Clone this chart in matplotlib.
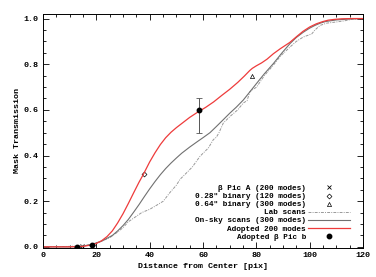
import matplotlib
matplotlib.use("Agg")
import matplotlib.pyplot as plt

plt.rcParams["font.family"] = ["Liberation Mono", "DejaVu Sans Mono"]
plt.rcParams["font.weight"] = "bold"

# adopted 200 modes (red)
adopt_x = [0, 10, 15, 18, 20, 22, 24, 26, 28, 30, 32, 34, 36, 37.6, 40, 42, 44, 46, 48,
           50, 52, 55, 58, 61, 64, 67, 70, 73, 75.5, 77.5, 78.5, 80, 82, 84, 86.4, 89,
           92.5, 95, 97.5, 100, 102.5, 105, 107, 109, 112, 116, 120]
adopt_y = [0, 0, 0.002, 0.008, 0.015, 0.027, 0.045, 0.07, 0.105, 0.145, 0.19, 0.237,
           0.283, 0.317, 0.372, 0.412, 0.448, 0.478, 0.502, 0.522, 0.54, 0.567, 0.59,
           0.611, 0.635, 0.663, 0.69, 0.72, 0.748, 0.772, 0.782, 0.793, 0.806, 0.822,
           0.846, 0.868, 0.895, 0.92, 0.944, 0.963, 0.977, 0.987, 0.993, 0.996, 0.999,
           1.0, 1.0]

# on-sky scans (300 modes)
sky_x = [0, 10, 15, 18, 22, 26, 28, 30, 32, 34, 36, 38, 40, 42, 44, 46, 48, 50, 52, 55,
         58, 60.1, 62.6, 65, 67.6, 70, 72.5, 75.1, 77.5, 80.1, 83, 86.4, 89.5, 92.6, 95,
         97.6, 100, 102, 104, 106, 110, 115, 120]
sky_y = [0, 0, 0.003, 0.01, 0.025, 0.05, 0.07, 0.093, 0.12, 0.152, 0.185, 0.22, 0.254,
         0.286, 0.316, 0.343, 0.367, 0.389, 0.41, 0.437, 0.462, 0.479, 0.5, 0.527, 0.557,
         0.585, 0.612, 0.643, 0.678, 0.716, 0.758, 0.803, 0.848, 0.89, 0.917, 0.94, 0.958,
         0.97, 0.98, 0.987, 0.994, 0.998, 1.0]

# lab scans
lab_x = [0, 5, 10, 15, 20, 25, 28, 30.1, 32, 33.9, 37, 40.1, 43, 45.1, 47.6, 50, 51.4,
         53.9, 56, 58.9, 62, 63.9, 65, 66, 67.6, 70.1, 73, 75.1, 76.5, 77.6, 80.1, 83,
         86.4, 89, 92.6, 95, 97.6, 100.8, 102, 103.9, 106.4, 110, 113, 116, 120]
lab_y = [0, 0.001, 0.002, 0.005, 0.015, 0.04, 0.065, 0.085, 0.11, 0.125, 0.15, 0.165,
         0.185, 0.2, 0.238, 0.27, 0.296, 0.325, 0.35, 0.397, 0.433, 0.47, 0.48, 0.5,
         0.542, 0.571, 0.6, 0.63, 0.64, 0.68, 0.7, 0.75, 0.796, 0.835, 0.875, 0.9, 0.919,
         0.933, 0.95, 0.97, 0.98, 0.985, 0.99, 0.997, 1.0]

# point measurements
picA_x, picA_y = [14.5], [0.002]
bin028_x, bin028_y = [37.9], [0.32]
bin064_x, bin064_y = [78.5], [0.75]
picb_x = [12.6, 18.2, 58.5]
picb_y = [0.0, 0.01, 0.60]
picb_err_lo = [0, 0, 0.10]
picb_err_hi = [0, 0, 0.05]

fig = plt.figure(figsize=(3.76, 2.77), dpi=100)
ax = fig.add_axes([0.1144, 0.1047, 0.851, 0.8448])

ax.plot(picA_x, picA_y, ls="none", marker="x", ms=3, mew=0.6, color="black",
        label="β Pic A (200 modes)")
ax.plot(bin028_x, bin028_y, ls="none", marker="D", ms=2.5, mfc="none", mew=0.5,
        color="black", label='0.28" binary (120 modes)')
ax.plot(bin064_x, bin064_y, ls="none", marker="^", ms=3, mfc="none", mew=0.5,
        color="black", label='0.64" binary (300 modes)')
ax.plot(lab_x, lab_y, color="#999999", lw=0.7, ls=(0, (3, 1.2, 1, 1.2)), label="Lab scans")
ax.plot(sky_x, sky_y, color="#707070", lw=0.8, label="On-sky scans (300 modes)")
ax.plot(adopt_x, adopt_y, color="#ee3b3b", lw=0.9, label="Adopted 200 modes")
ax.errorbar(picb_x, picb_y, yerr=[picb_err_lo, picb_err_hi], ls="none", marker="none",
            ecolor="#555555", elinewidth=0.7, capsize=2, capthick=0.6)
ax.plot(picb_x, picb_y, ls="none", marker="o", ms=3.2, color="black",
        label="Adopted β Pic b")

ax.set_xlim(0, 120)
ax.set_ylim(-0.005, 1.02)
ax.set_xticks(range(0, 121, 20))
ax.set_xticks(range(0, 121, 5), minor=True)
ax.set_yticks([0, 0.2, 0.4, 0.6, 0.8, 1.0])
ax.set_yticks([i * 0.05 for i in range(21)], minor=True)
ax.set_yticklabels(["0.0", "0.2", "0.4", "0.6", "0.8", "1.0"])
ax.tick_params(which="both", direction="in", top=True, right=True, labelsize=6,
               width=0.6)
ax.tick_params(which="major", length=4.3, pad=3)
ax.tick_params(which="minor", length=2.2)
for s in ax.spines.values():
    s.set_linewidth(0.7)

ax.set_xlabel("Distance from Center [pix]", fontsize=6, fontweight="bold", labelpad=3)
ax.set_ylabel("Mask Transmission", fontsize=6, fontweight="bold", labelpad=2)

ax.legend(loc="lower right", bbox_to_anchor=(0.97, 0.015), frameon=False,
          markerfirst=False, fontsize=5.6, labelspacing=0.08, handlelength=5.3,
          handletextpad=0.3, borderpad=0, numpoints=1)

fig.savefig("out.png", dpi=100)
